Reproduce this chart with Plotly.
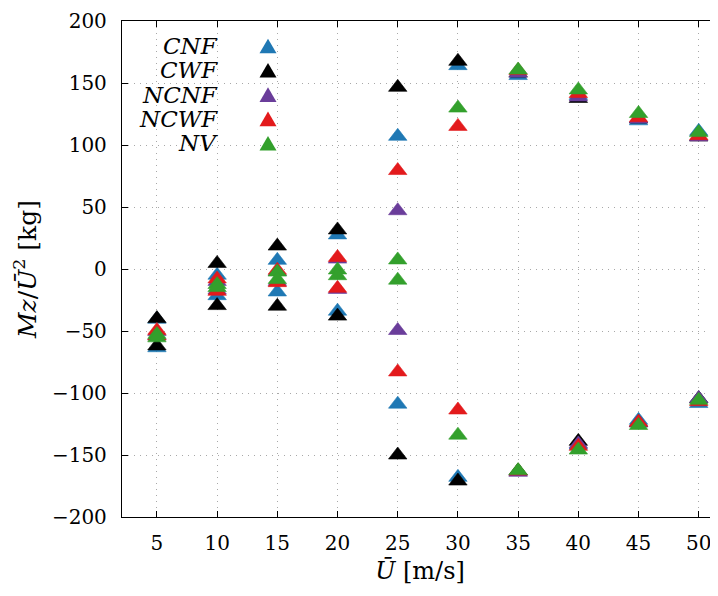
import plotly.graph_objects as go

speeds = [5, 10, 15, 20, 25, 30, 35, 40, 45, 50]

series_names = ["CNF", "CWF", "NCNF", "NCWF", "NV"]
series_colors = ["#1f78b4", "#000000", "#6a3d9a", "#e31a1c", "#33a02c"]

cnf_upper = [-40.5, -5, 7, 27.5, 107, 164, 156, 140, 119.5, 111]
cnf_lower = [-63.5, -21.5, -18.5, -34, -109, -168, -163, -142, -122, -108.5]

cwf_upper = [-40, 4.5, 18.5, 31.5, 146.5, 167.5, 158, 137.5, 121, 106.5]
cwf_lower = [-62, -29.5, -30, -38, -150, -171, -163, -139, -124, -104.5]

ncnf_upper = [-50.5, -10, -2, 8, 47, None, 158, 138.7, 121, 106.5]
ncnf_lower = [-54, -17, -10, -16.5, -49.6, None, -164, -141, -124, -104.5]

ncwf_upper = [-49.5, -8, -1, 9.3, 79.4, 115, 160, 141.5, 122, 107.5]
ncwf_lower = [-54, -18, -11, -15.6, -83, -113.7, -163, -143, -123.5, -107]

nv_upper = [-52.8, -12.5, -2.5, -0.8, 7.3, 129.8, 160.5, 144.4, 125.4, 110]
nv_lower = [-55.5, -15, -8.5, -5.4, -9, -134, -162.5, -146, -126.2, -105.9]

y_ticks = [-200, -150, -100, -50, 0, 50, 100, 150, 200]
x_ticks = speeds

all_upper = [cnf_upper, cwf_upper, ncnf_upper, ncwf_upper, nv_upper]
all_lower = [cnf_lower, cwf_lower, ncnf_lower, ncwf_lower, nv_lower]

# page body has an 8px margin: the figure is placed at (8, 8) in the window
OFF = 8
W, H = 718 - OFF, 596 - OFF
ML, MR, MT, MB = 122 - OFF, 0, 21 - OFF, 79
FONT = "DejaVu Serif"

fig = go.Figure()
for name, color, up, lo in zip(series_names, series_colors, all_upper, all_lower):
    fig.add_trace(go.Scatter(
        x=speeds + speeds, y=up + lo, mode="markers", name=name,
        marker=dict(symbol="triangle-up", size=16, color=color,
                    line=dict(width=0.6, color=color)),
        showlegend=False, cliponaxis=False,
    ))

# manual legend: right-aligned italic labels with markers to the right
pw, ph = W - ML - MR, H - MT - MB
plot_left_px, plot_bottom_px = 122, 517
text_right_px = 220
marker_px = 268
row0_px, row_step = 46, 24.3
for i, (name, color) in enumerate(zip(series_names, series_colors)):
    ypx = row0_px + i * row_step
    yp = (plot_bottom_px - ypx) / ph
    xt = (text_right_px - plot_left_px) / pw
    fig.add_annotation(x=xt, y=yp, xref="paper", yref="paper", text=f"<i>{name}</i>",
                       showarrow=False, xanchor="right", yanchor="middle",
                       font=dict(family=FONT, size=23, color="black"))
    hw, hh = 8.5 / pw, 7.3 / ph
    xm = (marker_px - plot_left_px) / pw
    fig.add_shape(type="path", xref="paper", yref="paper",
                  path=f"M {xm-hw} {yp-hh} L {xm+hw} {yp-hh} L {xm} {yp+hh} Z",
                  fillcolor=color, line=dict(width=0))

axis_common = dict(
    showline=True, linecolor="black", linewidth=1.3, mirror="ticks",
    ticks="inside", ticklen=6, tickwidth=1, tickcolor="black",
    showgrid=True, gridcolor="#a8a8a8", gridwidth=1, griddash="1px,5px",
    zeroline=False, automargin=False,
    tickfont=dict(family=FONT, size=20, color="black"),
)

fig.update_xaxes(range=[2.1, 51.6], tickvals=x_ticks, ticklabelstandoff=8,
                 title=dict(text="<i>Ū</i> [m/s]", font=dict(family=FONT, size=24, color="black"), standoff=8),
                 **axis_common)
fig.update_yaxes(range=[-200, 200], tickvals=y_ticks, ticklabelstandoff=10,
                 title=dict(text="<i>Mz</i>/<i>Ū</i><sup>2</sup> [kg]", font=dict(family=FONT, size=25, color="black"), standoff=8),
                 **axis_common)

fig.update_layout(
    width=W, height=H,
    margin=dict(l=ML, r=MR, t=MT, b=MB),
    plot_bgcolor="white", paper_bgcolor="white",
    font=dict(family=FONT, color="black"),
)

fig.write_html("out.html")
